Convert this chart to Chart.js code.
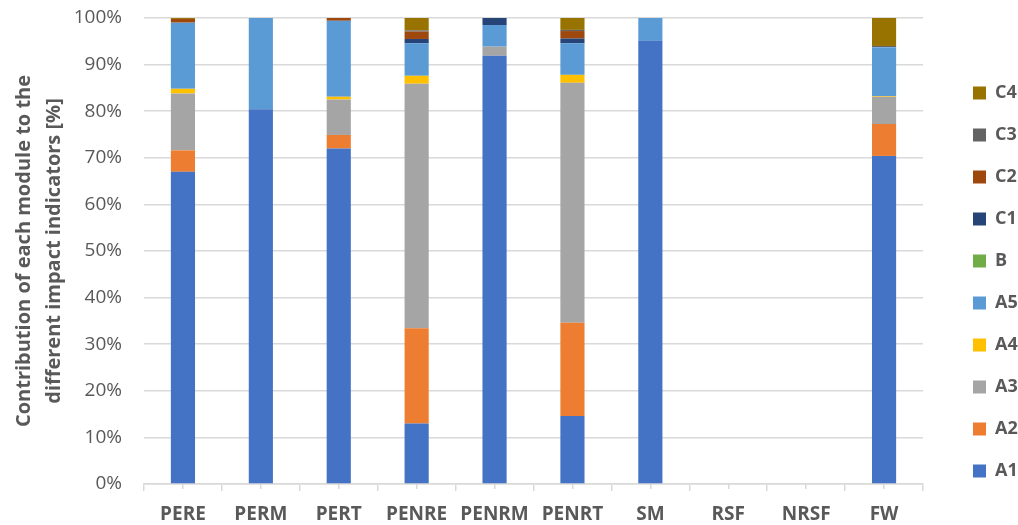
<!DOCTYPE html>
<html lang="en">
  <head>
    <meta charset="UTF-8" />
    <title>Module contribution</title>
    <script src="https://cdn.jsdelivr.net/npm/chart.js"></script>
    <style>
      html, body {
        margin: 0;
        padding: 0;
        background: #ffffff;
      }
      .chart-box {
        position: relative;
        width: 1018px;
        height: 525px;
      }
    </style>
  </head>
  <body>
    <div class="chart-box">
      <canvas id="moduleChart"></canvas>
    </div>

    <script>
      // indicators on the x axis
      const categories = ['PERE', 'PERM', 'PERT', 'PENRE', 'PENRM', 'PENRT', 'SM', 'RSF', 'NRSF', 'FW'];

      // share of each life-cycle module (%), one value per indicator
      const A1 = [67.0, 80.4, 72.0, 13.0, 91.9, 14.6, 95.1, 0, 0, 70.4];
      const A2 = [4.6, 0, 2.9, 20.4, 0, 20.0, 0, 0, 0, 6.85];
      const A3 = [12.2, 0, 7.6, 52.5, 1.95, 51.5, 0, 0, 0, 5.85];
      const A4 = [1.0, 0, 0.6, 1.7, 0, 1.7, 0, 0, 0, 0.15];
      const A5 = [14.2, 19.6, 16.3, 7.0, 4.65, 6.8, 4.9, 0, 0, 10.5];
      const B = [0, 0, 0, 0, 0, 0, 0, 0, 0, 0];
      const C1 = [0, 0, 0, 0.9, 1.5, 1.0, 0, 0, 0, 0];
      const C2 = [0.8, 0, 0.6, 1.6, 0, 1.6, 0, 0, 0, 0];
      const C3 = [0, 0, 0, 0.25, 0, 0.25, 0, 0, 0, 0.25];
      const C4 = [0.2, 0, 0, 2.65, 0, 2.55, 0, 0, 0, 6.0];

      const yTicks = [0, 10, 20, 30, 40, 50, 60, 70, 80, 90, 100];

      const modules = [
        { label: 'A1', data: A1, color: '#4472c4' },
        { label: 'A2', data: A2, color: '#ed7d31' },
        { label: 'A3', data: A3, color: '#a5a5a5' },
        { label: 'A4', data: A4, color: '#ffc000' },
        { label: 'A5', data: A5, color: '#5b9bd5' },
        { label: 'B', data: B, color: '#70ad47' },
        { label: 'C1', data: C1, color: '#264478' },
        { label: 'C2', data: C2, color: '#9e480e' },
        { label: 'C3', data: C3, color: '#636363' },
        { label: 'C4', data: C4, color: '#997300' }
      ];

      const textGrey = '#595959';
      const gridGrey = '#d9d9d9';
      const fontName = "'Open Sans', 'Liberation Sans', sans-serif";

      const ctx = document.getElementById('moduleChart').getContext('2d');
      const moduleChart = new Chart(ctx, {
        type: 'bar',
        data: {
          labels: categories,
          datasets: modules.map(m => ({
            label: m.label,
            data: m.data,
            backgroundColor: m.color,
            borderWidth: 0,
            barPercentage: 0.31,
            categoryPercentage: 1.0
          }))
        },
        options: {
          responsive: true,
          maintainAspectRatio: false,
          animation: false,
          layout: {
            padding: 0
          },
          plugins: {
            tooltip: { enabled: false },
            legend: {
              position: 'right',
              reverse: true,
              maxWidth: 69,
              title: {
                display: true,
                text: ' ',
                font: { size: 15, lineHeight: 1.2 },
                padding: { top: 0, bottom: 21 }
              },
              labels: {
                boxWidth: 13,
                boxHeight: 13,
                padding: 24,
                color: textGrey,
                font: { family: fontName, size: 18, weight: 'bold' }
              }
            }
          },
          scales: {
            x: {
              stacked: true,
              afterFit: axis => { axis.height = 41; },
              grid: {
                drawOnChartArea: false,
                color: gridGrey,
                lineWidth: 1.5,
                tickLength: 7
              },
              border: { color: gridGrey, width: 1.5 },
              ticks: {
                color: textGrey,
                padding: 12,
                font: { family: fontName, size: 19, weight: 'bold' }
              }
            },
            // second category axis only for the short tick marks under each bar
            xMid: {
              type: 'category',
              position: { y: 0 },
              offset: true,
              grid: {
                offset: false,
                drawOnChartArea: false,
                color: gridGrey,
                lineWidth: 1.5,
                tickLength: 5
              },
              border: { display: false },
              ticks: { display: false }
            },
            y: {
              stacked: true,
              min: 0,
              max: 100,
              afterFit: axis => {
                axis.width = 144;
                axis.paddingTop = 18;
                axis.paddingBottom = 0;
              },
              afterBuildTicks: axis => {
                axis.ticks = yTicks.map(v => ({ value: v }));
              },
              grid: {
                color: gridGrey,
                lineWidth: 1.5,
                drawTicks: false
              },
              border: { display: false },
              ticks: {
                color: textGrey,
                padding: 22,
                font: { family: fontName, size: 19 },
                callback: v => v + '%'
              },
              title: {
                display: true,
                text: ['Contribution of each module to the', 'different impact indicators [%]'],
                color: textGrey,
                padding: { top: 9, bottom: 0 },
                font: { family: fontName, size: 20, weight: 'bold', lineHeight: 1.5 }
              }
            },
            // empty spacer between the plot and the legend
            gap: {
              type: 'linear',
              position: 'right',
              afterFit: axis => { axis.width = 26; },
              grid: { display: false },
              border: { display: false },
              ticks: { display: false }
            }
          }
        }
      });
    </script>
  </body>
</html>
